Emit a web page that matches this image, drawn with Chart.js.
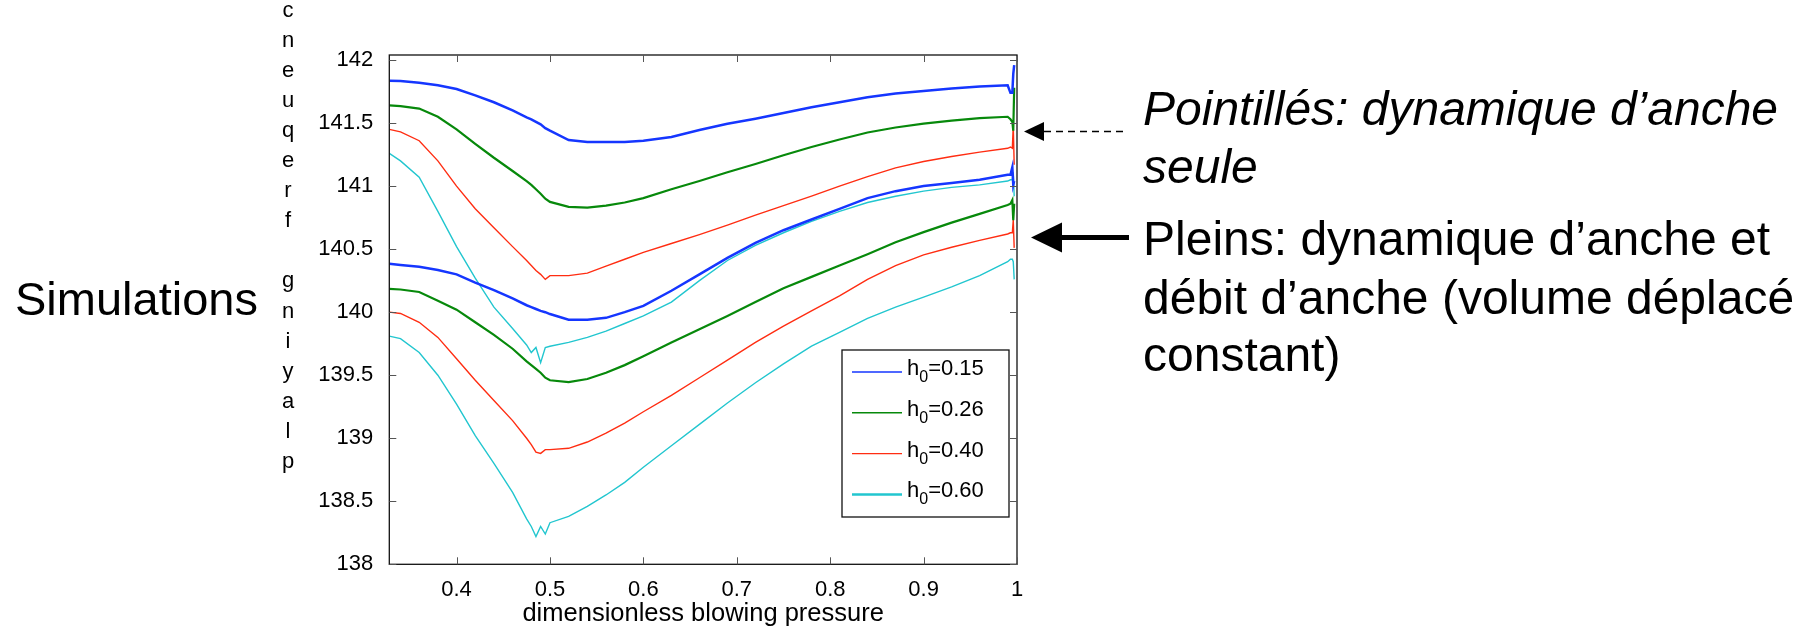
<!DOCTYPE html>
<html>
<head>
<meta charset="utf-8">
<script src="https://cdn.jsdelivr.net/npm/chart.js@4.4.1/dist/chart.umd.min.js"></script>
<style>
  html, body { margin: 0; padding: 0; background: #fff; }
  #wrap { width: 1807px; height: 630px; }
</style>
</head>
<body>
<div id="wrap"><canvas id="freqChart" width="1807" height="630"></canvas></div>
<script>
Chart.defaults.font.family = '"Liberation Sans", Arial, Helvetica, sans-serif';
Chart.defaults.color = '#000';

// dimensionless blowing pressure (shared abscissa of every curve)
const xGrid = [0.328, 0.34, 0.36, 0.38, 0.40, 0.42, 0.44, 0.46, 0.475, 0.48,
               0.485, 0.49, 0.495, 0.50, 0.52, 0.54, 0.56, 0.58, 0.60, 0.63,
               0.66, 0.69, 0.72, 0.75, 0.78, 0.81, 0.84, 0.87, 0.90, 0.93,
               0.96, 0.99, 0.993, 0.995, 0.996, 0.997];

const xTicks = [0.4, 0.5, 0.6, 0.7, 0.8, 0.9, 1];
const xTickLabels = ['0.4', '0.5', '0.6', '0.7', '0.8', '0.9', '1'];
const yTicks = [138, 138.5, 139, 139.5, 140, 140.5, 141, 141.5, 142];
const yTickLabels = ['138', '138.5', '139', '139.5', '140', '140.5', '141', '141.5', '142'];

const h0Labels = ['0.15', '0.26', '0.40', '0.60'];
const h0Colors = ['#1536ff', '#07890b', '#ff2d12', '#22c6cf'];

// "Pointillés": reed dynamics only (upper group)
const seule015 = [141.835, 141.833, 141.82, 141.80, 141.77, 141.72, 141.665, 141.60, 141.545, 141.53,
                  141.51, 141.49, 141.46, 141.44, 141.365, 141.35, 141.35, 141.35, 141.36, 141.39,
                  141.445, 141.495, 141.535, 141.58, 141.625, 141.665, 141.705, 141.735, 141.755, 141.775,
                  141.79, 141.80, 141.74, 141.74, 141.89, 141.96];
const seule026 = [141.64, 141.635, 141.615, 141.55, 141.45, 141.335, 141.225, 141.12, 141.04, 141.01,
                  140.975, 140.94, 140.90, 140.875, 140.835, 140.83, 140.845, 140.87, 140.905, 140.975,
                  141.04, 141.11, 141.175, 141.245, 141.31, 141.37, 141.425, 141.465, 141.495, 141.52,
                  141.54, 141.55, 141.53, 141.51, 141.44, 141.78];
const seule040 = [141.45, 141.43, 141.36, 141.20, 141.00, 140.82, 140.67, 140.52, 140.41, 140.37,
                  140.33, 140.30, 140.26, 140.29, 140.29, 140.31, 140.365, 140.42, 140.475, 140.545,
                  140.615, 140.69, 140.77, 140.845, 140.92, 141.00, 141.075, 141.145, 141.195, 141.235,
                  141.27, 141.30, 141.31, 141.30, 141.48, 141.17];
const seule060 = [141.26, 141.20, 141.07, 140.80, 140.52, 140.27, 140.04, 139.87, 139.74, 139.68,
                  139.72, 139.60, 139.72, 139.73, 139.76, 139.80, 139.85, 139.91, 139.97, 140.08,
                  140.25, 140.41, 140.53, 140.63, 140.72, 140.80, 140.87, 140.92, 140.96, 140.99,
                  141.01, 141.04, 141.05, 141.05, 141.11, 140.92];

// "Pleins": reed dynamics and reed flow (lower group)
const pleins015 = [140.385, 140.375, 140.36, 140.335, 140.30, 140.235, 140.175, 140.11, 140.055, 140.04,
                   140.025, 140.01, 140.0, 139.985, 139.94, 139.94, 139.955, 140.0, 140.05, 140.17,
                   140.30, 140.43, 140.55, 140.65, 140.735, 140.82, 140.905, 140.96, 141.0, 141.025,
                   141.05, 141.09, 141.09, 141.15, 141.01, 141.04];
const pleins026 = [140.185, 140.18, 140.16, 140.09, 140.02, 139.92, 139.82, 139.71, 139.61, 139.58,
                   139.55, 139.52, 139.48, 139.46, 139.445, 139.47, 139.52, 139.58, 139.65, 139.76,
                   139.865, 139.97, 140.08, 140.19, 140.28, 140.37, 140.46, 140.555, 140.635, 140.71,
                   140.78, 140.85, 140.86, 140.89, 140.73, 140.86];
const pleins040 = [140.0, 139.99, 139.92, 139.80, 139.63, 139.46, 139.30, 139.14, 139.00, 138.95,
                   138.89, 138.88, 138.91, 138.91, 138.92, 138.97, 139.04, 139.12, 139.21, 139.34,
                   139.48, 139.62, 139.76, 139.89, 140.01, 140.13, 140.26, 140.37, 140.455, 140.515,
                   140.57, 140.62, 140.63, 140.63, 140.73, 140.51];
const pleins060 = [139.81, 139.79, 139.68, 139.50, 139.27, 139.02, 138.80, 138.57, 138.36, 138.30,
                   138.22, 138.30, 138.24, 138.33, 138.38, 138.46, 138.55, 138.65, 138.77, 138.94,
                   139.11, 139.28, 139.44, 139.59, 139.73, 139.84, 139.95, 140.04, 140.12, 140.20,
                   140.29, 140.40, 140.42, 140.42, 140.40, 140.26];

const seuleSeries = [seule015, seule026, seule040, seule060];
const pleinsSeries = [pleins015, pleins026, pleins040, pleins060];
const lineWidths = [2.5, 2.2, 1.4, 1.4];

const yLabel = 'playing frequency';
const FONT = '"Liberation Sans", Arial, Helvetica, sans-serif';

const datasets = [];
h0Labels.forEach(function(h, i) {
    [seuleSeries[i], pleinsSeries[i]].forEach(function(vals, j) {
        datasets.push({
            label: 'h0=' + h + (j ? ' pleins' : ' pointillés'),
            data: xGrid.map(function(x, k) { return { x: x, y: vals[k] }; }),
            borderColor: h0Colors[i],
            borderWidth: lineWidths[i],
            pointRadius: 0,
            tension: 0,
            fill: false
        });
    });
});

function drawArrow(ctx, tipX, baseX, tailX, y, halfHead, width, dash) {
    ctx.save();
    ctx.strokeStyle = '#000';
    ctx.fillStyle = '#000';
    ctx.lineWidth = width;
    ctx.setLineDash(dash);
    ctx.beginPath();
    ctx.moveTo(tailX, y);
    ctx.lineTo(baseX - 1, y);
    ctx.stroke();
    ctx.setLineDash([]);
    ctx.beginPath();
    ctx.moveTo(tipX, y);
    ctx.lineTo(baseX, y - halfHead);
    ctx.lineTo(baseX, y + halfHead);
    ctx.closePath();
    ctx.fill();
    ctx.restore();
}

const decorPlugin = {
    id: 'decor',
    afterDraw: function(chart) {
        const ctx = chart.ctx;
        const a = chart.chartArea;
        const xs = chart.scales.x;
        const ys = chart.scales.y;
        ctx.save();

        // box
        ctx.strokeStyle = '#111';
        ctx.lineWidth = 1.3;
        ctx.strokeRect(a.left, a.top, a.right - a.left, a.bottom - a.top);

        // inward ticks on all four sides
        ctx.strokeStyle = '#555';
        ctx.lineWidth = 1;
        ctx.beginPath();
        xTicks.forEach(function(v) {
            const px = Math.round(xs.getPixelForValue(v)) + 0.5;
            ctx.moveTo(px, a.bottom); ctx.lineTo(px, a.bottom - 7);
            ctx.moveTo(px, a.top); ctx.lineTo(px, a.top + 7);
        });
        yTicks.forEach(function(v) {
            const py = Math.round(ys.getPixelForValue(v)) + 0.5;
            ctx.moveTo(a.left, py); ctx.lineTo(a.left + 7, py);
            ctx.moveTo(a.right, py); ctx.lineTo(a.right - 7, py);
        });
        ctx.stroke();

        // legend box
        const lg = { left: 842, top: 350, right: 1009, bottom: 517 };
        ctx.fillStyle = '#fff';
        ctx.fillRect(lg.left, lg.top, lg.right - lg.left, lg.bottom - lg.top);
        ctx.strokeStyle = '#111';
        ctx.lineWidth = 1.3;
        ctx.strokeRect(lg.left, lg.top, lg.right - lg.left, lg.bottom - lg.top);
        h0Labels.forEach(function(h, i) {
            const ry = lg.top + 22 + i * 40.8;
            ctx.strokeStyle = h0Colors[i];
            ctx.lineWidth = i === 3 ? 2.5 : 1.4;
            ctx.beginPath();
            ctx.moveTo(852, ry);
            ctx.lineTo(902, ry);
            ctx.stroke();
            ctx.fillStyle = '#000';
            ctx.textAlign = 'left';
            ctx.textBaseline = 'alphabetic';
            ctx.font = '22px ' + FONT;
            let tx = 907;
            ctx.fillText('h', tx, ry + 3);
            tx += ctx.measureText('h').width;
            ctx.font = '16px ' + FONT;
            ctx.fillText('0', tx, ry + 10);
            tx += ctx.measureText('0').width;
            ctx.font = '22px ' + FONT;
            ctx.fillText('=' + h, tx, ry + 3);
        });

        // stacked y-axis letters (read bottom to top)
        ctx.fillStyle = '#000';
        ctx.font = '22px ' + FONT;
        ctx.textAlign = 'center';
        ctx.textBaseline = 'alphabetic';
        for (let k = 0; k < yLabel.length; k++) {
            const ch = yLabel[k];
            if (ch === ' ') continue;
            ctx.fillText(ch, 288, 468 - 30.1 * k);
        }

        // left caption
        ctx.textAlign = 'left';
        ctx.font = '47px ' + FONT;
        ctx.fillText('Simulations', 15, 315);

        // right annotations
        ctx.font = 'italic 48px ' + FONT;
        ctx.fillText('Pointillés: dynamique d’anche', 1143, 125);
        ctx.fillText('seule', 1143, 183);
        ctx.font = '48px ' + FONT;
        ctx.fillText('Pleins: dynamique d’anche et', 1143, 255);
        ctx.fillText('débit d’anche (volume déplacé', 1143, 314);
        ctx.fillText('constant)', 1143, 371);

        drawArrow(ctx, 1024, 1044, 1123, 131.5, 9.5, 1.5, [7, 5]);
        drawArrow(ctx, 1031, 1062, 1129, 237.5, 15, 5, []);

        ctx.restore();
    }
};

new Chart(document.getElementById('freqChart'), {
    type: 'line',
    data: { datasets: datasets },
    options: {
        responsive: false,
        animation: false,
        events: [],
        layout: { padding: { left: 0, top: 55, right: 790, bottom: 0 } },
        plugins: {
            legend: { display: false },
            tooltip: { enabled: false }
        },
        scales: {
            x: {
                type: 'linear',
                min: 0.328,
                max: 1,
                afterBuildTicks: function(s) { s.ticks = xTicks.map(function(v) { return { value: v }; }); },
                afterFit: function(s) { s.height = 65.7; },
                grid: { display: false },
                border: { display: false },
                ticks: {
                    font: { size: 22 },
                    color: '#000',
                    padding: 4,
                    maxRotation: 0,
                    autoSkip: false,
                    callback: function(v, i) { return xTickLabels[i]; }
                },
                title: {
                    display: true,
                    text: 'dimensionless blowing pressure',
                    font: { size: 25.5 },
                    color: '#000',
                    padding: { top: 0, bottom: 1 }
                }
            },
            y: {
                type: 'linear',
                min: 138,
                max: 142.04,
                afterBuildTicks: function(s) { s.ticks = yTicks.map(function(v) { return { value: v }; }); },
                afterFit: function(s) { s.width = 389.3; },
                grid: { display: false },
                border: { display: false },
                ticks: {
                    font: { size: 22 },
                    color: '#000',
                    padding: 8,
                    autoSkip: false,
                    callback: function(v, i) { return yTickLabels[i]; }
                }
            }
        }
    },
    plugins: [decorPlugin]
});
</script>
</body>
</html>
